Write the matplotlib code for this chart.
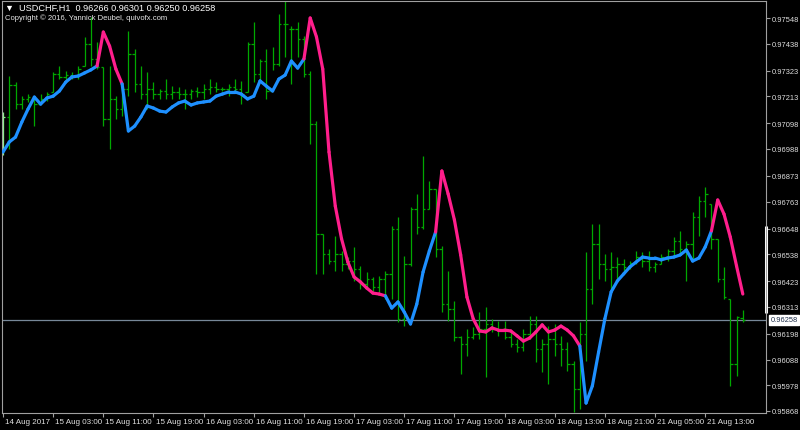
import numpy as np
import matplotlib
matplotlib.use("Agg")
import matplotlib.pyplot as plt
from matplotlib.collections import LineCollection

# USDCHF H1 bars, 14 Aug 2017 19:00 .. 21 Aug 2017 19:00
opens = [0.96988, 0.97125, 0.97262, 0.97180, 0.97202, 0.97202, 0.97180, 0.97202, 0.97232, 0.97309,
         0.97296, 0.97304, 0.97300, 0.97343, 0.97437, 0.97373, 0.97339, 0.97116, 0.97202, 0.97159,
         0.97245, 0.97394, 0.97266, 0.97223, 0.97245, 0.97223, 0.97236, 0.97223, 0.97232, 0.97223,
         0.97223, 0.97236, 0.97232, 0.97245, 0.97253, 0.97245, 0.97245, 0.97253, 0.97245, 0.97232,
         0.97437, 0.97309, 0.97364, 0.97236, 0.97351, 0.97522, 0.97501, 0.97501, 0.97458, 0.97309,
         0.97095, 0.96625, 0.96539, 0.96509, 0.96539, 0.96496, 0.96509, 0.96475, 0.96411, 0.96433,
         0.96398, 0.96433, 0.96454, 0.96646, 0.96262, 0.96496, 0.96732, 0.96655, 0.96732, 0.96817,
         0.96561, 0.96325, 0.96304, 0.96184, 0.96155, 0.96184, 0.96197, 0.96219, 0.96240, 0.96219,
         0.96219, 0.96184, 0.96155, 0.96142, 0.96197, 0.96240, 0.96133, 0.96155, 0.96176, 0.96155,
         0.96133, 0.96069, 0.95962, 0.96197, 0.96390, 0.96582, 0.96496, 0.96475, 0.96484, 0.96496,
         0.96484, 0.96501, 0.96526, 0.96509, 0.96484, 0.96496, 0.96526, 0.96552, 0.96595, 0.96561,
         0.96582, 0.96697, 0.96766, 0.96753, 0.96604, 0.96433, 0.96347, 0.96069, 0.96266]
highs = [0.97146, 0.97300, 0.97274, 0.97214, 0.97223, 0.97202, 0.97223, 0.97232, 0.97317, 0.97343,
         0.97321, 0.97317, 0.97343, 0.97467, 0.97552, 0.97445, 0.97339, 0.97343, 0.97214, 0.97274,
         0.97492, 0.97415, 0.97343, 0.97317, 0.97274, 0.97245, 0.97287, 0.97257, 0.97253, 0.97245,
         0.97245, 0.97253, 0.97266, 0.97287, 0.97274, 0.97253, 0.97266, 0.97287, 0.97279, 0.97445,
         0.97531, 0.97373, 0.97415, 0.97424, 0.97565, 0.97621, 0.97514, 0.97531, 0.97471, 0.97321,
         0.97108, 0.96625, 0.96561, 0.96616, 0.96552, 0.96526, 0.96569, 0.96488, 0.96462, 0.96441,
         0.96445, 0.96467, 0.96659, 0.96697, 0.96531, 0.96740, 0.96796, 0.96958, 0.96851, 0.96817,
         0.96573, 0.96467, 0.96338, 0.96189, 0.96219, 0.96227, 0.96291, 0.96313, 0.96262, 0.96253,
         0.96253, 0.96206, 0.96176, 0.96219, 0.96274, 0.96274, 0.96176, 0.96231, 0.96240, 0.96189,
         0.96163, 0.96082, 0.96248, 0.96548, 0.96668, 0.96668, 0.96539, 0.96548, 0.96526, 0.96518,
         0.96509, 0.96552, 0.96548, 0.96552, 0.96505, 0.96539, 0.96561, 0.96612, 0.96638, 0.96595,
         0.96719, 0.96787, 0.96826, 0.96753, 0.96604, 0.96484, 0.96347, 0.96274, 0.96301]
lows = [0.96962, 0.96988, 0.97159, 0.97159, 0.97189, 0.97086, 0.97180, 0.97193, 0.97232, 0.97287,
        0.97274, 0.97287, 0.97287, 0.97343, 0.97343, 0.97330, 0.97086, 0.96988, 0.97116, 0.97129,
        0.97214, 0.97232, 0.97202, 0.97159, 0.97202, 0.97202, 0.97202, 0.97202, 0.97202, 0.97159,
        0.97202, 0.97210, 0.97202, 0.97223, 0.97232, 0.97236, 0.97214, 0.97232, 0.97180, 0.97232,
        0.97274, 0.97274, 0.97202, 0.97326, 0.97343, 0.97381, 0.97266, 0.97382, 0.97296, 0.97009,
        0.96454, 0.96454, 0.96496, 0.96467, 0.96467, 0.96475, 0.96424, 0.96390, 0.96390, 0.96381,
        0.96377, 0.96347, 0.96347, 0.96248, 0.96231, 0.96488, 0.96625, 0.96646, 0.96732, 0.96526,
        0.96291, 0.96253, 0.96167, 0.96026, 0.96103, 0.96176, 0.96176, 0.96013, 0.96206, 0.96189,
        0.96176, 0.96142, 0.96120, 0.96124, 0.96176, 0.96078, 0.96035, 0.95984, 0.96103, 0.96060,
        0.96039, 0.95864, 0.95877, 0.96082, 0.96325, 0.96433, 0.96424, 0.96390, 0.96433, 0.96462,
        0.96475, 0.96496, 0.96484, 0.96467, 0.96462, 0.96496, 0.96509, 0.96526, 0.96539, 0.96424,
        0.96518, 0.96616, 0.96697, 0.96561, 0.96420, 0.96347, 0.95975, 0.96018, 0.96250]
closes = [0.97125, 0.97262, 0.97180, 0.97202, 0.97210, 0.97180, 0.97202, 0.97223, 0.97309, 0.97296,
          0.97304, 0.97300, 0.97330, 0.97437, 0.97373, 0.97339, 0.97116, 0.97202, 0.97159, 0.97245,
          0.97394, 0.97266, 0.97223, 0.97245, 0.97223, 0.97236, 0.97223, 0.97232, 0.97223, 0.97223,
          0.97236, 0.97232, 0.97245, 0.97253, 0.97245, 0.97245, 0.97253, 0.97245, 0.97223, 0.97437,
          0.97309, 0.97364, 0.97236, 0.97351, 0.97522, 0.97522, 0.97501, 0.97458, 0.97309, 0.97095,
          0.96625, 0.96539, 0.96509, 0.96539, 0.96496, 0.96509, 0.96475, 0.96411, 0.96433, 0.96398,
          0.96433, 0.96454, 0.96646, 0.96262, 0.96496, 0.96732, 0.96655, 0.96732, 0.96817, 0.96561,
          0.96325, 0.96304, 0.96184, 0.96155, 0.96184, 0.96197, 0.96219, 0.96240, 0.96219, 0.96219,
          0.96184, 0.96155, 0.96142, 0.96197, 0.96240, 0.96133, 0.96155, 0.96176, 0.96155, 0.96133,
          0.96069, 0.95962, 0.96197, 0.96390, 0.96582, 0.96496, 0.96475, 0.96484, 0.96496, 0.96484,
          0.96501, 0.96526, 0.96509, 0.96484, 0.96496, 0.96526, 0.96552, 0.96595, 0.96561, 0.96582,
          0.96697, 0.96766, 0.96796, 0.96604, 0.96433, 0.96355, 0.96069, 0.96270, 0.96258]

# trend moving average (blue = up, pink = down)
ma = [0.96975, 0.97018, 0.97039, 0.97103, 0.97159, 0.97210, 0.97180, 0.97206, 0.97214, 0.97236,
      0.97274, 0.97296, 0.97300, 0.97313, 0.97326, 0.97343, 0.97488, 0.97428, 0.97330, 0.97266,
      0.97065, 0.97086, 0.97125, 0.97172, 0.97163, 0.97150, 0.97146, 0.97168, 0.97185, 0.97193,
      0.97176, 0.97185, 0.97189, 0.97193, 0.97214, 0.97223, 0.97232, 0.97232, 0.97223, 0.97202,
      0.97214, 0.97279, 0.97257, 0.97236, 0.97287, 0.97304, 0.97364, 0.97334, 0.97373, 0.97548,
      0.97467, 0.97330, 0.96975, 0.96744, 0.96604, 0.96505, 0.96441, 0.96420, 0.96394, 0.96372,
      0.96368, 0.96360, 0.96308, 0.96334, 0.96291, 0.96240, 0.96325, 0.96462, 0.96552, 0.96633,
      0.96894, 0.96796, 0.96685, 0.96535, 0.96355, 0.96262, 0.96210, 0.96206, 0.96223, 0.96214,
      0.96214, 0.96210, 0.96189, 0.96167, 0.96180, 0.96206, 0.96236, 0.96206, 0.96214, 0.96231,
      0.96214, 0.96189, 0.96146, 0.95902, 0.95975, 0.96120, 0.96262, 0.96377, 0.96424, 0.96454,
      0.96484, 0.96505, 0.96526, 0.96522, 0.96522, 0.96514, 0.96522, 0.96526, 0.96535, 0.96556,
      0.96509, 0.96522, 0.96569, 0.96638, 0.96770, 0.96710, 0.96612, 0.96488, 0.96368]
down_runs = [(16, 19), (49, 61), (70, 92), (114, 118)]

date_labels = ["14 Aug 2017", "15 Aug 03:00", "15 Aug 11:00", "15 Aug 19:00", "16 Aug 03:00",
               "16 Aug 11:00", "16 Aug 19:00", "17 Aug 03:00", "17 Aug 11:00", "17 Aug 19:00",
               "18 Aug 03:00", "18 Aug 13:00", "18 Aug 21:00", "21 Aug 05:00", "21 Aug 13:00"]
price_ticks = [0.97548, 0.97438, 0.97323, 0.97213, 0.97098, 0.96988, 0.96873, 0.96763,
               0.96648, 0.96538, 0.96423, 0.96313, 0.96198, 0.96088, 0.95978, 0.95868]
bid = 0.96258

W, H = 800, 431
fig = plt.figure(figsize=(W / 100, H / 100), dpi=100, facecolor="black")
ax = fig.add_axes([2 / W, 17 / H, 764 / W, 412 / H], facecolor="black")

n = len(closes)
x = np.arange(n)
bar_col = ["#00a800"] * n
bar_col[0] = "#8cf08c"
ax.vlines(x, lows, highs, colors=bar_col, lw=0.9)
ax.hlines(opens, x - 0.38, x, colors=bar_col, lw=0.9)
ax.hlines(closes, x, x + 0.38, colors=bar_col, lw=0.9)

# bid line
ax.axhline(bid, color="#778899", lw=0.9, zorder=1)

# colored MA
down = np.zeros(n, dtype=bool)
for a, b in down_runs:
    down[a:b + 1] = True
pts = np.column_stack([x, ma])
segs = np.stack([pts[:-1], pts[1:]], axis=1)
seg_cols = ["#ff1e8c" if down[k + 1] else "#1e90ff" for k in range(n - 1)]
lc = LineCollection(segs, colors=seg_cols, linewidths=2.3, capstyle="round", joinstyle="round", zorder=3)
ax.add_collection(lc)

ax.set_xlim(-0.16, 121.7)
ax.set_ylim(0.958594, 0.976207)

for s in ax.spines.values():
    s.set_color("#a0a0a0")
    s.set_linewidth(0.8)

ax.yaxis.tick_right()
ax.set_yticks(price_ticks)
ax.set_yticklabels([f"{p:.5f}" for p in price_ticks])
ax.set_xticks(np.arange(0, 8 * len(date_labels), 8))
ax.set_xticklabels([])
ax.tick_params(colors="#a0a0a0", length=3, width=0.8, labelcolor="#e0e0e0",
               labelsize=5.4, pad=1.5)
for t in ax.get_yticklabels():
    t.set_fontfamily("Liberation Sans")

for k, lab in enumerate(date_labels):
    ax.annotate(lab, xy=(8 * k, 0), xycoords=("data", "axes fraction"),
                xytext=(1.5, -3.5), textcoords="offset points", ha="left", va="top",
                color="#e0e0e0", fontsize=5.8, family="Liberation Sans", annotation_clip=False)

# white marker on right scale
ax.plot([1, 1], [0.96660, 0.96287], transform=ax.get_yaxis_transform(),
        color="white", lw=2.2, clip_on=False, solid_capstyle="butt")

# bid price box
ax.annotate(f"{bid:.5f}", xy=(1, bid), xycoords=("axes fraction", "data"),
            xytext=(3.2, 0), textcoords="offset points", ha="left", va="center",
            fontsize=5.4, family="Liberation Sans", color="#1c2c48", annotation_clip=False,
            bbox=dict(boxstyle="square,pad=0.2", fc="white", ec="white"))

fig.text(5 / W, 1 - 8 / H, "\u25BC  USDCHF,H1  0.96266 0.96301 0.96250 0.96258", color="white",
         fontsize=6.6, family=["Liberation Sans", "DejaVu Sans"], va="center", ha="left")
fig.text(5 / W, 1 - 18 / H, "Copyright \u00A9 2016, Yannick Deubel, quivofx.com", color="#e8e8e8",
         fontsize=5.5, family="Liberation Sans", va="center", ha="left")

fig.savefig("out.png", dpi=100, facecolor="black")
